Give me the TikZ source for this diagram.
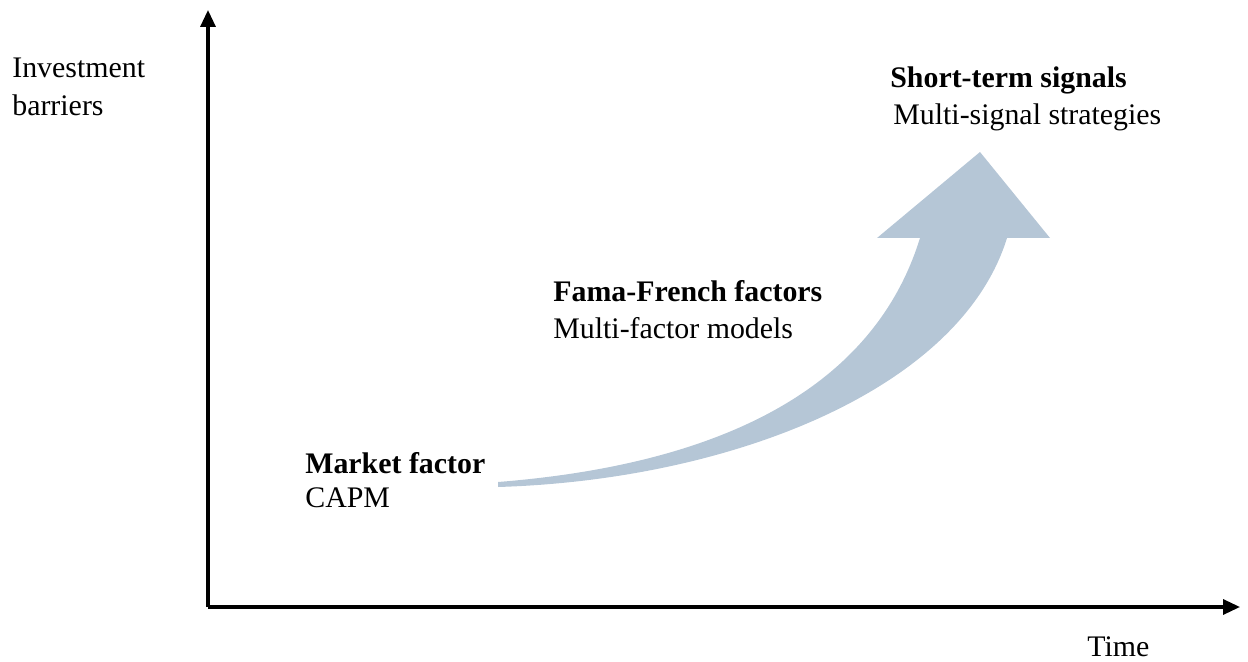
\documentclass[tikz,border=0pt]{standalone}
\usepackage{fontspec}
\setmainfont{Liberation Serif}
\usetikzlibrary{arrows.meta}
\definecolor{arrowblue}{RGB}{181,198,214}
\begin{document}
\begin{tikzpicture}[x=0.02cm, y=-0.02cm,
    txt/.style={inner sep=0pt, anchor=base west, font=\fontsize{17}{21}\selectfont},
    ttl/.style={txt, font=\fontsize{17}{21}\selectfont\bfseries},
    axis/.style={line width=1.8pt, -{Triangle[length=9.6pt,width=8.5pt]}}]
        \useasboundingbox (0,0) rectangle (1248,662);
        % axes
        \coordinate (o) at (208,607);
        \coordinate (ytop) at (208,10);
        \coordinate (xend) at (1240,607);
        \draw[axis] (o) -- (ytop);
        \draw[axis] (o) -- (xend);
        \node[txt] (ylab1) at (12,78) {Investment};
        \node[txt] (ylab2) at (12,116) {barriers};
        \node[txt] (xlab) at (1087,656) {Time};
        % big curved arrow
        \fill[arrowblue] (498,482) .. controls (700,466) and (870,400) .. (920,238)
            -- (877,238) -- (980,152) -- (1050,238) -- (1007,238)
            .. controls (960,390) and (730,480) .. (498,487) -- cycle;
        % stages
        \node[ttl] (m1) at (305,473) {Market factor};
        \node[txt] (m2) at (305,507) {CAPM};
        \node[ttl] (f1) at (553,302) {Fama-French factors};
        \node[txt] (f2) at (553,338) {Multi-factor models};
        \node[ttl] (s1) at (890,88) {Short-term signals};
        \node[txt] (s2) at (893,125) {Multi-signal strategies};
    \end{tikzpicture}
\end{document}
